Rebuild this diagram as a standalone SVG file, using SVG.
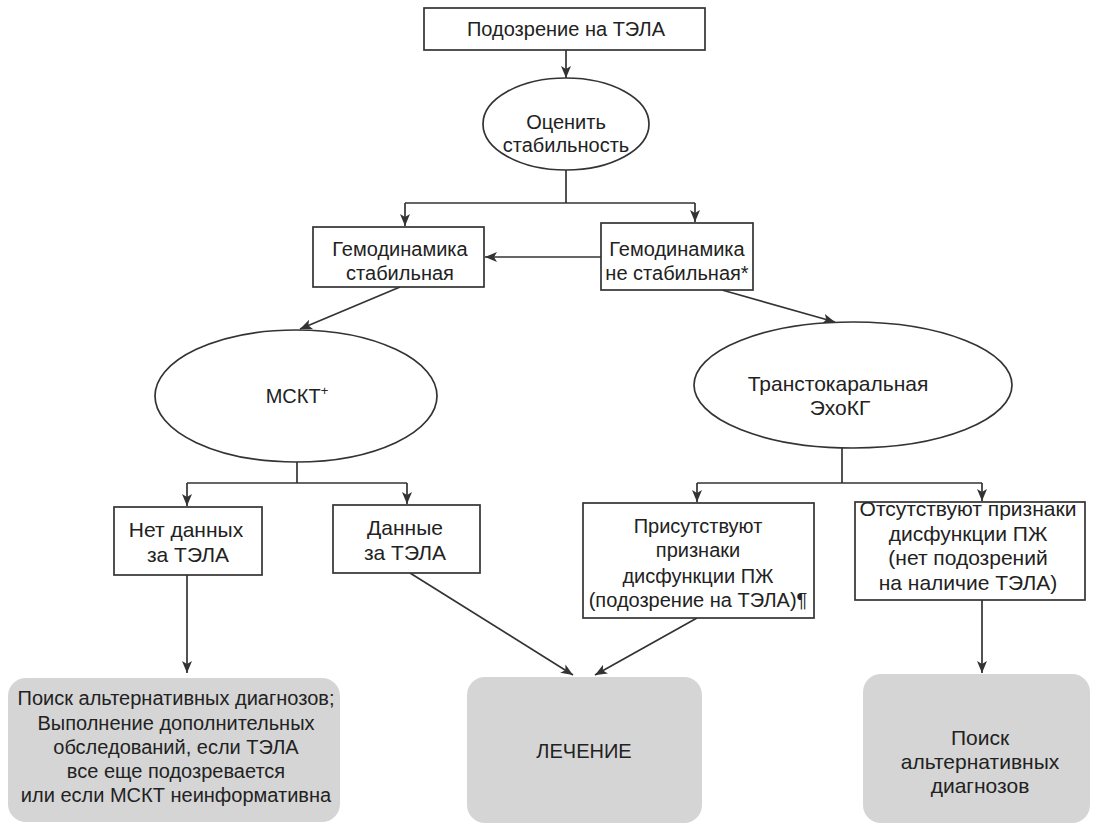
<svg xmlns="http://www.w3.org/2000/svg" width="1096" height="826" viewBox="0 0 1096 826">
<defs>
<marker id="arr" viewBox="0 0 12 10" refX="12" refY="5" markerWidth="12" markerHeight="10" markerUnits="userSpaceOnUse" orient="auto">
<path d="M0,0 L12,5 L0,10 L3,5 z" fill="#333"/>
</marker>
<style>
.box{fill:#fff;stroke:#333;stroke-width:1.7}
.ell{fill:#fff;stroke:#333;stroke-width:1.7}
.gray{fill:#d5d5d5;stroke:none}
.ln{fill:none;stroke:#333;stroke-width:1.7}
.ar{fill:none;stroke:#333;stroke-width:1.7;marker-end:url(#arr)}
text{font-family:"Liberation Sans",Arial,sans-serif;font-size:20px;fill:#222;text-anchor:middle}
.big{font-size:21px}
</style>
</defs>
<rect width="1096" height="826" fill="#fff"/>
<g id="connectors">
<line class="ar" x1="566" y1="50" x2="566" y2="78"/>
<polyline class="ln" points="566,170 566,203"/>
<polyline class="ar" points="405,203 405,226"/>
<polyline class="ln" points="405,203 695,203"/>
<polyline class="ar" points="695,203 695,222"/>
<line class="ar" x1="601" y1="257" x2="485" y2="257"/>
<line class="ar" x1="400" y1="287" x2="300" y2="329"/>
<line class="ar" x1="722" y1="290" x2="835" y2="322"/>
<polyline class="ln" points="297,462 297,483"/>
<polyline class="ln" points="187,483 407,483"/>
<line class="ar" x1="187" y1="483" x2="187" y2="506"/>
<line class="ar" x1="407" y1="483" x2="407" y2="504"/>
<polyline class="ln" points="842,448 842,483"/>
<polyline class="ln" points="697,483 982,483"/>
<line class="ar" x1="697" y1="483" x2="697" y2="502"/>
<line class="ar" x1="982" y1="483" x2="982" y2="501"/>
<line class="ar" x1="187" y1="575" x2="187" y2="673"/>
<line class="ar" x1="410" y1="573" x2="573" y2="675"/>
<line class="ar" x1="697" y1="618" x2="595" y2="675"/>
<line class="ar" x1="982" y1="600" x2="982" y2="673"/>
</g>
<g id="n-suspect">
<rect class="box" x="424" y="8" width="281" height="42"/>
<text x="566" y="36" font-size="19.5">Подозрение на ТЭЛА</text>
</g>
<g id="n-assess">
<ellipse class="ell" cx="566" cy="124" rx="83" ry="46"/>
<text x="566" y="129">Оценить</text>
<text x="566" y="152">стабильность</text>
</g>
<g id="n-stable">
<rect class="box" x="313" y="227" width="171" height="60"/>
<text x="400" y="256">Гемодинамика</text>
<text x="400" y="280">стабильная</text>
</g>
<g id="n-unstable">
<rect class="box" x="601" y="223" width="152" height="67"/>
<text x="677" y="256">Гемодинамика</text>
<text x="677" y="280">не стабильная*</text>
</g>
<g id="n-mskt">
<ellipse class="ell" cx="296" cy="396" rx="141" ry="66"/>
<text x="297" y="403">МСКТ<tspan font-size="13" dy="-8">+</tspan></text>
</g>
<g id="n-echo">
<ellipse class="ell" cx="853" cy="385" rx="159" ry="63"/>
<text class="big" x="838" y="391">Транстокаральная</text>
<text class="big" x="840" y="415">ЭхоКГ</text>
</g>
<g id="n-nodata">
<rect class="box" x="114" y="507" width="148" height="68"/>
<text class="big" x="186" y="537">Нет данных</text>
<text class="big" x="188" y="562">за ТЭЛА</text>
</g>
<g id="n-data">
<rect class="box" x="333" y="505" width="147" height="68"/>
<text class="big" x="405" y="535">Данные</text>
<text class="big" x="405" y="560">за ТЭЛА</text>
</g>
<g id="n-present">
<rect class="box" x="583" y="503" width="231" height="115"/>
<text x="698" y="533">Присутствуют</text>
<text x="698" y="557">признаки</text>
<text x="698" y="583">дисфункции ПЖ</text>
<text x="698" y="607">(подозрение на ТЭЛА)¶</text>
</g>
<g id="n-absent">
<rect class="box" x="855" y="502" width="230" height="98"/>
<text class="big" x="968" y="516">Отсутствуют признаки</text>
<text class="big" x="968" y="541">дисфункции ПЖ</text>
<text class="big" x="968" y="565">(нет подозрений</text>
<text class="big" x="968" y="590">на наличие ТЭЛА)</text>
</g>
<g id="n-alt1">
<rect class="gray" x="8" y="678" width="332" height="144" rx="18"/>
<text x="176" y="705">Поиск альтернативных диагнозов;</text>
<text x="176" y="730">Выполнение дополнительных</text>
<text x="176" y="754">обследований, если ТЭЛА</text>
<text x="176" y="778">все еще подозревается</text>
<text x="176" y="802">или если МСКТ неинформативна</text>
</g>
<g id="n-treat">
<rect class="gray" x="467" y="677" width="235" height="146" rx="18"/>
<text x="584" y="758">ЛЕЧЕНИЕ</text>
</g>
<g id="n-alt2">
<rect class="gray" x="863" y="674" width="227" height="149" rx="18"/>
<text class="big" x="980" y="745">Поиск</text>
<text class="big" x="980" y="769">альтернативных</text>
<text class="big" x="980" y="793">диагнозов</text>
</g>
</svg>
